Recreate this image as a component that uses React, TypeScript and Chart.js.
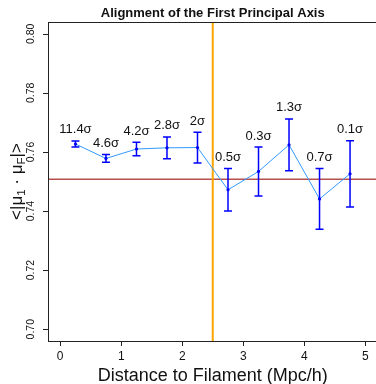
import React, { useEffect, useRef } from "react";
import { Chart, registerables } from "chart.js";

Chart.register(...registerables);

// Bin centres (Mpc/h) and the mean alignment in each bin
const distances = [0.25, 0.75, 1.25, 1.75, 2.25, 2.75, 3.25, 3.75, 4.25, 4.75];
const meanAlignment = [0.7627, 0.7578, 0.761, 0.7614, 0.7615, 0.7472, 0.7534, 0.7624, 0.7441, 0.7526];
const alignmentError = [0.00105, 0.0013, 0.0023, 0.0037, 0.0052, 0.0072, 0.0083, 0.0088, 0.0103, 0.0112];
const significance = ["11.4σ", "4.6σ", "4.2σ", "2.8σ", "2σ", "0.5σ", "0.3σ", "1.3σ", "0.7σ", "0.1σ"];

// Random-orientation baseline and the filament radius marker
const baseline = 0.7508;
const filamentRadius = 2.5;

const xTicks = [0, 1, 2, 3, 4, 5];
const yTicks = [0.7, 0.72, 0.74, 0.76, 0.78, 0.8];
const xRange = [-0.2, 5.2];
const yRange = [0.696, 0.804];

const FONT = "'Liberation Sans', Arial, Helvetica, sans-serif";

const decorations = {
  id: "decorations",
  afterDatasetsDraw(chart: any) {
    const ctx = chart.ctx as CanvasRenderingContext2D;
    const xs = chart.scales.x;
    const ys = chart.scales.y;

    // error bars
    ctx.save();
    ctx.strokeStyle = "#0000FF";
    ctx.lineWidth = 1.5;
    distances.forEach((d, i) => {
      const px = xs.getPixelForValue(d);
      const top = ys.getPixelForValue(meanAlignment[i] + alignmentError[i]);
      const bot = ys.getPixelForValue(meanAlignment[i] - alignmentError[i]);
      ctx.beginPath();
      ctx.moveTo(px, top);
      ctx.lineTo(px, bot);
      ctx.moveTo(px - 4, top);
      ctx.lineTo(px + 4, top);
      ctx.moveTo(px - 4, bot);
      ctx.lineTo(px + 4, bot);
      ctx.stroke();
    });

    // significance labels above each bar
    ctx.fillStyle = "#111";
    ctx.font = `13px ${FONT}`;
    ctx.textAlign = "center";
    ctx.textBaseline = "middle";
    distances.forEach((d, i) => {
      const px = xs.getPixelForValue(d);
      const top = ys.getPixelForValue(meanAlignment[i] + alignmentError[i]);
      ctx.fillText(significance[i], px, top - 11);
    });
    ctx.restore();
  },
  afterDraw(chart: any) {
    const ctx = chart.ctx as CanvasRenderingContext2D;
    const xs = chart.scales.x;
    const ys = chart.scales.y;
    const area = chart.chartArea;
    ctx.save();

    // plot frame
    ctx.strokeStyle = "#222";
    ctx.lineWidth = 1;
    ctx.strokeRect(area.left + 0.5, area.top + 0.5, area.right - area.left, area.bottom - area.top);

    // axis tick marks
    ctx.beginPath();
    xTicks.forEach((t) => {
      const px = Math.round(xs.getPixelForValue(t)) + 0.5;
      ctx.moveTo(px, area.bottom);
      ctx.lineTo(px, area.bottom + 5);
    });
    yTicks.forEach((t) => {
      const py = Math.round(ys.getPixelForValue(t)) + 0.5;
      ctx.moveTo(area.left, py);
      ctx.lineTo(area.left - 5, py);
    });
    ctx.stroke();

    ctx.fillStyle = "#111";
    ctx.font = `12px ${FONT}`;
    ctx.textAlign = "center";
    ctx.textBaseline = "middle";
    xTicks.forEach((t) => {
      ctx.fillText(String(t), xs.getPixelForValue(t), 357);
    });

    ctx.font = `10.5px ${FONT}`;
    yTicks.forEach((t) => {
      ctx.save();
      ctx.translate(31, ys.getPixelForValue(t));
      ctx.rotate(-Math.PI / 2);
      ctx.fillText(t.toFixed(2), 0, 0);
      ctx.restore();
    });

    // title
    const cx = (area.left + area.right) / 2;
    ctx.font = `bold 13px ${FONT}`;
    ctx.fillText("Alignment of the First Principal Axis", cx, 13);

    // x axis title
    ctx.font = `18px ${FONT}`;
    ctx.fillText("Distance to Filament (Mpc/h)", cx, 376);

    // y axis title with subscripts: <|μ1 · μF|>
    const parts: [string, boolean][] = [
      ["<|μ", false],
      ["1", true],
      [" · μ", false],
      ["F", true],
      ["|>", false],
    ];
    const mainFont = `17px ${FONT}`;
    const subFont = `11.5px ${FONT}`;
    let total = 0;
    parts.forEach(([s, sub]) => {
      ctx.font = sub ? subFont : mainFont;
      total += ctx.measureText(s).width;
    });
    const cy = (area.top + area.bottom) / 2;
    ctx.translate(16, cy);
    ctx.rotate(-Math.PI / 2);
    ctx.textAlign = "left";
    ctx.textBaseline = "alphabetic";
    let pos = -total / 2;
    parts.forEach(([s, sub]) => {
      ctx.font = sub ? subFont : mainFont;
      ctx.fillText(s, pos, sub ? 9 : 6);
      pos += ctx.measureText(s).width;
    });
    ctx.restore();
  },
};

export default function App() {
  const canvasRef = useRef<HTMLCanvasElement | null>(null);

  useEffect(() => {
    document.body.style.margin = "0";
    const canvas = canvasRef.current;
    if (!canvas) return;

    const chart = new Chart(canvas, {
      type: "scatter",
      data: {
        datasets: [
          {
            label: "mean",
            data: distances.map((d, i) => ({ x: d, y: meanAlignment[i] })),
            showLine: true,
            borderColor: "#3399FF",
            borderWidth: 1,
            pointRadius: 1.6,
            pointBackgroundColor: "#0000EE",
            pointBorderWidth: 0,
            order: 0,
          },
          {
            label: "filament",
            data: [
              { x: filamentRadius, y: yRange[0] },
              { x: filamentRadius, y: yRange[1] },
            ],
            showLine: true,
            borderColor: "#FFA500",
            borderWidth: 2,
            pointRadius: 0,
            order: 1,
          },
          {
            label: "baseline",
            data: [
              { x: xRange[0], y: baseline },
              { x: xRange[1], y: baseline },
            ],
            showLine: true,
            borderColor: "#B5504E",
            borderWidth: 1.5,
            pointRadius: 0,
            order: 2,
          },
        ],
      },
      options: {
        animation: false,
        responsive: false,
        devicePixelRatio: 1,
        layout: { padding: { left: 48, right: 14.5, top: 22, bottom: 43 } },
        plugins: { legend: { display: false }, tooltip: { enabled: false } },
        scales: {
          x: { type: "linear", min: xRange[0], max: xRange[1], display: false },
          y: { type: "linear", min: yRange[0], max: yRange[1], display: false },
        },
      },
      plugins: [decorations],
    });

    return () => chart.destroy();
  }, []);

  return (
    <div style={{ width: 376, height: 384, overflow: "hidden", position: "relative", background: "#fff" }}>
      <canvas ref={canvasRef} width={392} height={384} style={{ display: "block" }} />
    </div>
  );
}
